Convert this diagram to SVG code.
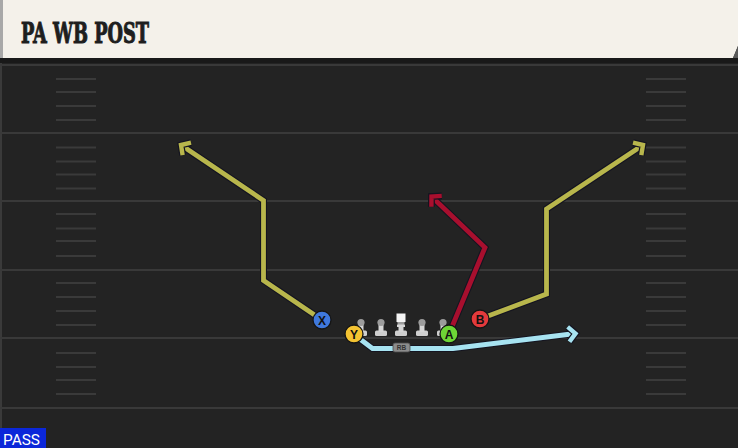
<svg xmlns="http://www.w3.org/2000/svg" width="738" height="448" viewBox="0 0 738 448">
<style>
.yl{stroke:#393939;stroke-width:2}
.hm{stroke:#3a3a3a;stroke-width:2}
.out{fill:none;stroke:#141420;stroke-width:7;stroke-linejoin:miter}
.rt{fill:none;stroke-width:4.8;stroke-linejoin:miter}
.ao{fill:none;stroke:#141420;stroke-width:6.8;stroke-linejoin:miter;stroke-miterlimit:10}
.ai{fill:none;stroke-width:4.4;stroke-linejoin:miter;stroke-miterlimit:10}
.pl{stroke:#151515;stroke-width:1.3}
.plt{font-family:"Liberation Sans",Arial,sans-serif;font-size:12px;font-weight:bold;fill:#111;text-anchor:middle}
</style>
<defs>
<marker id="aO" markerUnits="userSpaceOnUse" viewBox="-16 -14 28 28" markerWidth="28" markerHeight="28" refX="0" refY="0" orient="auto"><path class="ao" d="M-7,-7.5 L0,0 L-7,7.5"/><path class="ai" stroke="#b8b64c" d="M-7,-7.5 L0,0 L-7,7.5"/></marker>
<marker id="aR" markerUnits="userSpaceOnUse" viewBox="-16 -14 28 28" markerWidth="28" markerHeight="28" refX="0" refY="0" orient="auto"><path class="ao" d="M-7,-7.5 L0,0 L-7,7.5"/><path class="ai" stroke="#a80f2e" d="M-7,-7.5 L0,0 L-7,7.5"/></marker>
<marker id="aB" markerUnits="userSpaceOnUse" viewBox="-16 -14 28 28" markerWidth="28" markerHeight="28" refX="0" refY="0" orient="auto"><path class="ao" d="M-7,-7.5 L0,0 L-7,7.5"/><path class="ai" stroke="#a7e3f1" d="M-7,-7.5 L0,0 L-7,7.5"/></marker>
<g id="lm">
<rect x="-6" y="-3.5" width="12" height="5.5" rx="1.5" fill="#cfcfcf"/>
<rect x="-2.5" y="-10" width="5" height="8" fill="#d6d6d6"/>
<circle cx="0" cy="-11.5" r="3.6" fill="#9c9c9c"/>
</g>
</defs>
<rect width="738" height="448" fill="#232323"/>
<rect x="0" y="58" width="2" height="390" fill="#3a3a3a"/>
<g id="field">
<line class="yl" x1="0" y1="65" x2="738" y2="65"/>
<line class="yl" x1="0" y1="133" x2="738" y2="133"/>
<line class="yl" x1="0" y1="201" x2="738" y2="201"/>
<line class="yl" x1="0" y1="270" x2="738" y2="270"/>
<line class="yl" x1="0" y1="338" x2="738" y2="338"/>
<line class="yl" x1="0" y1="408" x2="738" y2="408"/>
<path class="hm" d="M56,79H96M56,92H96M56,106H96M56,120H96M56,147.5H96M56,161.5H96M56,174.5H96M56,188.5H96M56,214H96M56,228.5H96M56,241H96M56,256H96M56,283H96M56,297H96M56,311H96M56,325H96M56,353H96M56,367H96M56,380H96M56,394H96"/>
<path class="hm" d="M646,79H686M646,92H686M646,106H686M646,120H686M646,147.5H686M646,161.5H686M646,174.5H686M646,188.5H686M646,214H686M646,228.5H686M646,241H686M646,256H686M646,283H686M646,297H686M646,311H686M646,325H686M646,353H686M646,367H686M646,380H686M646,394H686"/>
</g>
<g id="header">
<rect x="0" y="58" width="738" height="5" fill="#191919"/>
<polygon points="0,0 738,0 738,46 733,58 0,58" fill="#f4f1ea"/>
<polygon points="738,46 733,58 738,58" fill="#5a5a5a"/>
<rect x="0" y="0" width="3" height="58" fill="#a8a8a8"/>
<text x="21" y="43" font-family="'DejaVu Serif','Liberation Serif',serif" font-weight="bold" font-size="28" fill="#1e1e1e" stroke="#1e1e1e" stroke-width="1.1" textLength="128" lengthAdjust="spacingAndGlyphs">PA WB POST</text>
</g>
<g id="connectors">
<path class="out" d="M322,320 L263.5,280.5 L263.5,200.5 L181,145"/>
<path class="rt" stroke="#b8b64c" d="M322,320 L263.5,280.5 L263.5,200.5 L181,145" marker-end="url(#aO)"/>
<path class="out" d="M480,319 L546.5,294 L546.5,209 L643,145"/>
<path class="rt" stroke="#b8b64c" d="M480,319 L546.5,294 L546.5,209 L643,145" marker-end="url(#aO)"/>
<path class="out" d="M449,334 L485,247.5 L431.5,196.5"/>
<path class="rt" stroke="#a80f2e" d="M449,334 L485,247.5 L431.5,196.5" marker-end="url(#aR)"/>
<path class="out" d="M356,336 L372.5,348.5 L453,348.5 L575.5,333.5"/>
<path class="rt" stroke="#a7e3f1" d="M356,336 L372.5,348.5 L453,348.5 L575.5,333.5" marker-end="url(#aB)"/>
</g>
<g id="line">
<use href="#lm" x="361" y="334"/>
<use href="#lm" x="381" y="334"/>
<g id="center">
<use href="#lm" x="401" y="334"/>
<rect x="396.5" y="313.5" width="9" height="8.5" fill="#f4f4f4"/>
<rect x="397" y="324.5" width="8" height="2.5" fill="#d6d6d6"/>
</g>
<use href="#lm" x="422" y="334"/>
<use href="#lm" x="443" y="334"/>
</g>
<g id="RB">
<rect x="393" y="343" width="17" height="9" rx="2" fill="#8c8c8c" stroke="#4a4a4a" stroke-width="0.8"/>
<text x="401.5" y="350" font-family="'Liberation Sans',Arial,sans-serif" font-size="6.5" font-weight="bold" fill="#333" text-anchor="middle">RB</text>
</g>
<g id="X"><circle class="pl" cx="322" cy="320" r="9" fill="#3f78dc"/><text class="plt" x="322" y="324.5">X</text></g>
<g id="Y"><circle class="pl" cx="354" cy="334" r="9" fill="#f4c332"/><text class="plt" x="354" y="338.5">Y</text></g>
<g id="A"><circle class="pl" cx="449" cy="334" r="9" fill="#6ed636"/><text class="plt" x="449" y="338.5">A</text></g>
<g id="B"><circle class="pl" cx="480" cy="319" r="9" fill="#e33a3c"/><text class="plt" x="480" y="323.5">B</text></g>
<g id="tag">
<rect x="0" y="428" width="46" height="20" fill="#0b27d9"/>
<text x="3" y="444.5" font-family="Roboto,'Liberation Sans',sans-serif" font-size="15" fill="#ffffff" textLength="37" lengthAdjust="spacingAndGlyphs">PASS</text>
</g>
</svg>
